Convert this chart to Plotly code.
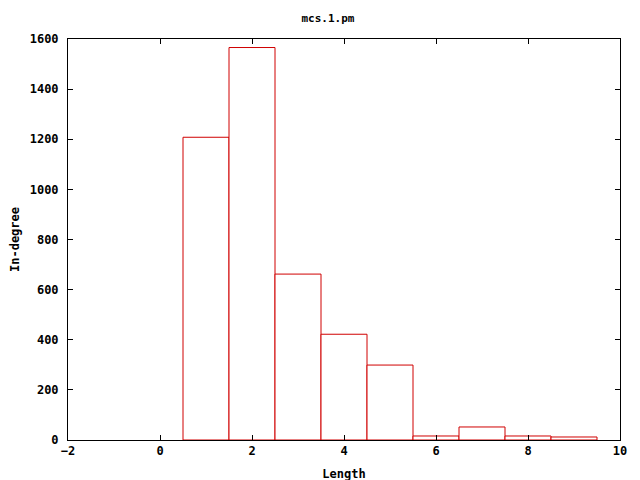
import plotly.graph_objects as go

lengths = [1, 2, 3, 4, 5, 6, 7, 8, 9]
counts = [1208, 1566, 662, 422, 299, 16, 52, 16, 12]
x_ticks = [-2, 0, 2, 4, 6, 8, 10]
y_ticks = [0, 200, 400, 600, 800, 1000, 1200, 1400, 1600]

FONT = "DejaVu Sans Mono"
bold12 = dict(family=FONT, size=12, color="black", weight="bold")

fig = go.Figure()
fig.add_trace(go.Bar(
    x=lengths, y=counts, width=1,
    marker=dict(color="white", line=dict(color="#d00000", width=1)),
))

axis_common = dict(
    ticks="inside", ticklen=5, tickcolor="black", mirror="ticks",
    showline=True, linecolor="black", linewidth=1, showgrid=False,
    zeroline=False, tickfont=bold12, automargin=False,
)

fig.update_layout(
    width=640, height=480,
    margin=dict(l=60, r=28, t=31, b=48),
    paper_bgcolor="white", plot_bgcolor="white",
    showlegend=False,
    font=bold12,
    title=dict(text="mcs.1.pm", x=0.5, xanchor="center", y=1 - 10 / 480, yanchor="middle",
               font=dict(family=FONT, size=11, color="black", weight="bold")),
    xaxis=dict(range=[-2, 10], tickvals=x_ticks,
               title=dict(text="Length", standoff=12, font=bold12),
               **axis_common),
    yaxis=dict(range=[0, 1600], tickvals=y_ticks, ticklabelstandoff=6,
               title=dict(text="In-degree", standoff=9, font=bold12),
               **axis_common),
)

fig.write_html("out.html")
